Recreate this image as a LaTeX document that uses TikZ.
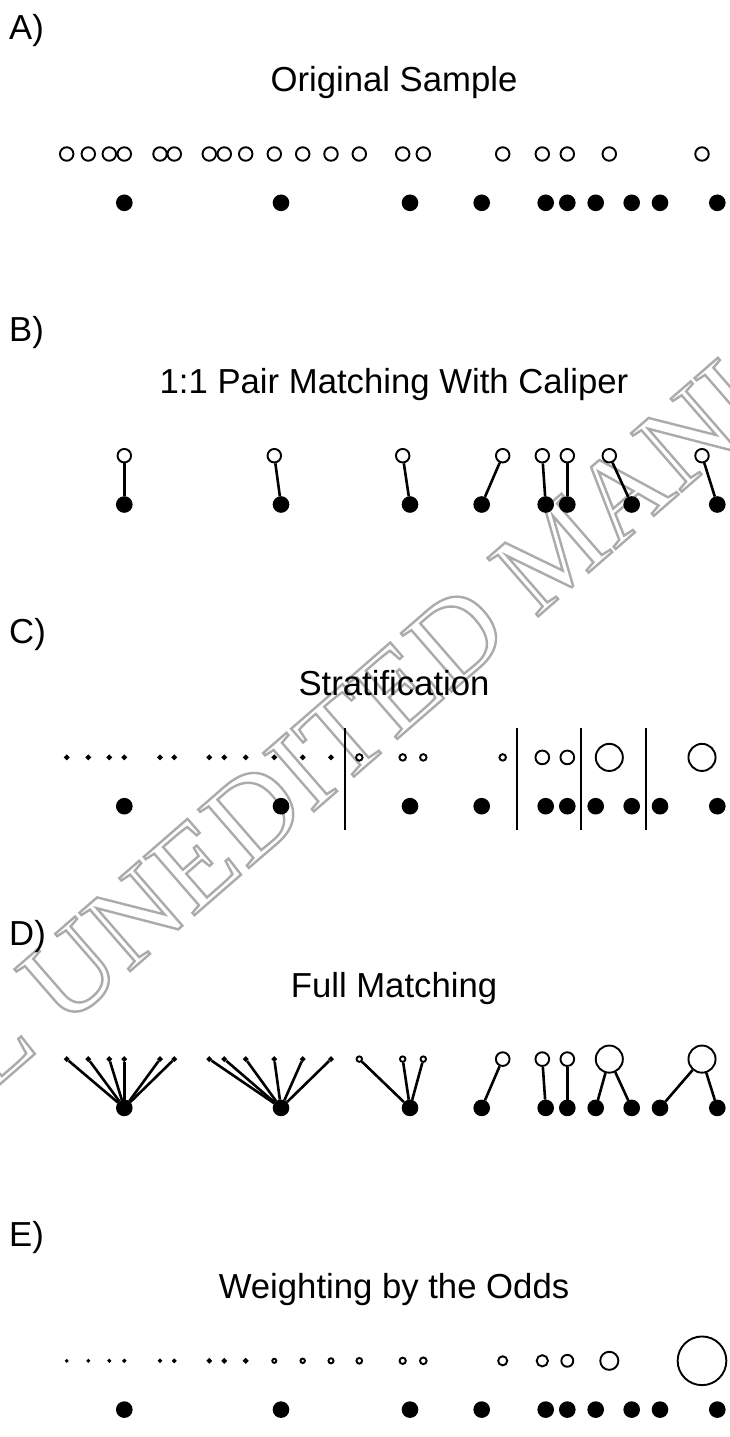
\documentclass[tikz,border=0pt]{standalone}
\usepackage{fontspec}
\setmainfont{Liberation Sans}
\newfontfamily\wmfont{Liberation Serif}
\newcommand\outlinetext[1]{\special{pdf:literal direct 1 Tr 2.4 w}#1\special{pdf:literal direct 0 Tr}}
\begin{document}
\begin{tikzpicture}[x=1pt,y=-1pt,
  ctrl/.style={circle,draw=black,fill=white,line width=1.9pt,inner sep=0pt,minimum size=#1},
  ctrl/.default=13.5pt,
  trt/.style={circle,draw=black,fill=black,line width=1.6pt,inner sep=0pt,minimum size=15pt},
  link/.style={line width=2.6pt},
  strat/.style={line width=2.4pt},
  lbl/.style={anchor=base west,inner sep=0pt,font=\fontsize{34.7}{40}\selectfont},
  ttl/.style={anchor=base,inner sep=0pt,font=\fontsize{34.7}{40}\selectfont},
  wm/.style={rotate=41,inner sep=0pt,text=black!33,font=\wmfont\fontsize{118}{118}\selectfont}]
\useasboundingbox (0,0) rectangle (730,1437);
\clip (0,0) rectangle (730,1437);
\fill[white] (0,0) rectangle (730,1437);
% watermark
\node[wm] (wmark) at (335,742) {\outlinetext{ORIGINAL UNEDITED MANUSCRIPT}};
% ---------- A ----------
\node[lbl] (la) at (9,40) {A)};
\node[ttl] (ta) at (394,92) {Original Sample};
\foreach \x [count=\i] in {66.7,88.3,109.3,124.3,160,174.3,209.3,224.3,245.7,274.3,302.7,331,359.3,402.7,423.3,502.7,542.3,567.3,609.3,702}
  \node[ctrl] (Ac\i) at (\x,154) {};
\foreach \x [count=\i] in {124.3,281,410,481.7,545.7,567.3,595.7,631.7,660,717.3}
  \node[trt] (At\i) at (\x,202.8) {};
% ---------- B ----------
\begin{scope}[shift={(0,301.7)}]
\node[lbl] (lb) at (9,40) {B)};
\node[ttl] (tb) at (394,92) {1:1 Pair Matching With Caliper};
\foreach \c/\t [count=\i] in {124.3/124.3,274.3/281,402.7/410,502.7/481.7,542.3/545.7,567.3/567.3,609.3/631.7,702/717.3}{
  \node[ctrl] (Bc\i) at (\c,154) {};
  \node[trt] (Bt\i) at (\t,202.8) {};
  \draw[link] (Bt\i) -- (Bc\i);
}
\end{scope}
% ---------- C ----------
\begin{scope}[shift={(0,603.4)}]
\node[lbl] (lc) at (9,40) {C)};
\node[ttl] (tc) at (394,92) {Stratification};
\foreach \x/\d [count=\i] in {66.7/3.3,88.3/3.3,109.3/3.3,124.3/3.3,160/3.3,174.3/3.3,209.3/3.3,224.3/3.3,245.7/3.3,274.3/3.3,302.7/3.3,331/3.3,359.3/6.5,402.7/6.5,423.3/6.5,502.7/6.5,542.3/13.7,567.3/13.7,609.3/27.1,702/27.1}
  \node[ctrl=\d pt] (Cc\i) at (\x,154) {};
\foreach \x [count=\i] in {124.3,281,410,481.7,545.7,567.3,595.7,631.7,660,717.3}
  \node[trt] (Ct\i) at (\x,202.8) {};
\foreach \x in {345,516.7,580.7,645.7}
  \draw[strat] (\x,124.6) -- (\x,226.6);
\end{scope}
% ---------- D ----------
\begin{scope}[shift={(0,905.1)}]
\node[lbl] (ld) at (9,40) {D)};
\node[ttl] (td) at (394,92) {Full Matching};
\foreach \x/\d [count=\i] in {66.7/3.3,88.3/3.3,109.3/3.3,124.3/3.3,160/3.3,174.3/3.3,209.3/3.3,224.3/3.3,245.7/3.3,274.3/3.3,302.7/3.3,331/3.3,359.3/5.5,402.7/5.5,423.3/5.5,502.7/13.7,542.3/13.7,567.3/13.7,609.3/27.1,702/27.1}
  \node[ctrl=\d pt] (Dc\i) at (\x,154) {};
\foreach \x [count=\i] in {124.3,281,410,481.7,545.7,567.3,595.7,631.7,660,717.3}
  \node[trt] (Dt\i) at (\x,202.8) {};
\foreach \t/\c in {1/1,1/2,1/3,1/4,1/5,1/6,2/7,2/8,2/9,2/10,2/11,2/12,3/13,3/14,3/15,4/16,5/17,6/18,7/19,8/19,9/20,10/20}
  \draw[link] (Dt\t) -- (Dc\c);
\end{scope}
% ---------- E ----------
\begin{scope}[shift={(0,1206.8)}]
\node[lbl] (le) at (9,40) {E)};
\node[ttl] (te) at (394,92) {Weighting by the Odds};
\foreach \x/\d [count=\i] in {66.7/1.3,88.3/1.5,109.3/1.7,124.3/1.9,160/2.1,174.3/2.3,209.3/3.1,224.3/3.3,245.7/3.5,274.3/4.1,302.7/4.5,331/5.1,359.3/5.7,402.7/6.3,423.3/6.7,502.7/9.1,542.3/11.3,567.3/11.9,609.3/18.1,702/48.7}
  \node[ctrl=\d pt] (Ec\i) at (\x,154) {};
\foreach \x [count=\i] in {124.3,281,410,481.7,545.7,567.3,595.7,631.7,660,717.3}
  \node[trt] (Et\i) at (\x,202.8) {};
\end{scope}
\end{tikzpicture}
\end{document}
